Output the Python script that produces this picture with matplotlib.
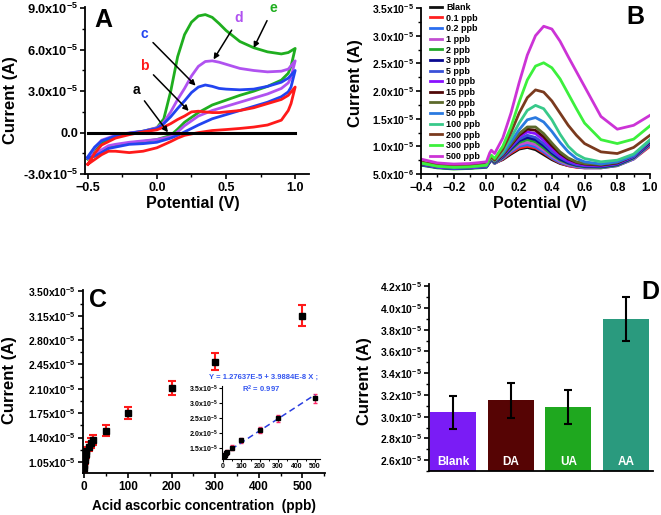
import numpy as np
import matplotlib
matplotlib.use('Agg')
import matplotlib.pyplot as plt
from matplotlib.ticker import MultipleLocator, AutoMinorLocator, FuncFormatter

plt.rcParams['font.family'] = ['Liberation Sans', 'DejaVu Sans']
plt.rcParams['font.weight'] = 'bold'
plt.rcParams['axes.labelweight'] = 'bold'
plt.rcParams['mathtext.fontset'] = 'custom'
plt.rcParams['mathtext.rm'] = 'Liberation Sans:bold'
plt.rcParams['mathtext.it'] = 'Liberation Sans:bold'
plt.rcParams['mathtext.bf'] = 'Liberation Sans:bold'
plt.rcParams['mathtext.default'] = 'rm'

# ---------------- data (currents in units of 1e-5 A) ----------------
# A: cyclic voltammograms
cv_fwd_x = [-0.5, -0.45, -0.4, -0.3, -0.2, -0.1, 0.0, 0.05, 0.1, 0.15, 0.2, 0.25,
            0.3, 0.35, 0.4, 0.45, 0.5, 0.6, 0.7, 0.8, 0.9, 0.95, 1.0]
cv_rev_x = [1.0, 0.97, 0.95, 0.9, 0.8, 0.7, 0.6, 0.5, 0.4, 0.3, 0.2, 0.15, 0.1,
            0.0, -0.1, -0.2, -0.3, -0.35, -0.4, -0.45, -0.5]
cv_b_fwd = [-2.3, -1.5, -0.9, -0.4, -0.15, 0.05, 0.2, 0.4, 0.65, 0.95, 1.2, 1.5,
            1.55, 1.5, 1.45, 1.45, 1.5, 1.6, 1.8, 2.1, 2.4, 2.7, 3.3]
cv_b_rev = [3.3, 2.1, 1.6, 0.9, 0.55, 0.4, 0.3, 0.22, 0.15, 0.0, -0.2, -0.4, -0.65,
            -1.1, -1.35, -1.45, -1.35, -1.35, -1.6, -1.95, -2.3]
cv_c_fwd = [-1.75, -1.05, -0.6, -0.25, -0.05, 0.1, 0.3, 0.65, 1.15, 1.75, 2.3, 2.9,
            3.3, 3.45, 3.35, 3.2, 3.15, 3.1, 3.15, 3.35, 3.65, 3.95, 4.5]
cv_c_rev = [4.5, 3.3, 2.95, 2.6, 2.2, 1.9, 1.6, 1.3, 1.0, 0.55, 0.05, -0.2, -0.4,
            -0.7, -0.8, -0.85, -1.05, -1.15, -1.45, -1.7, -1.85]
cv_d_fwd = [-1.85, -1.1, -0.55, -0.2, -0.02, 0.1, 0.35, 0.75, 1.5, 2.4, 3.2, 4.1,
            4.8, 5.15, 5.2, 5.1, 4.95, 4.65, 4.5, 4.4, 4.45, 4.6, 5.2]
cv_d_rev = [5.2, 4.0, 3.6, 3.2, 2.8, 2.5, 2.2, 1.9, 1.6, 1.2, 0.5, 0.05, -0.3,
            -0.5, -0.6, -0.7, -0.85, -0.95, -1.25, -1.55, -1.85]
cv_e_fwd = [-1.9, -1.2, -0.75, -0.3, -0.05, 0.1, 0.35, 1.0, 3.0, 5.5, 7.1, 8.0,
            8.45, 8.55, 8.35, 7.9, 7.4, 6.6, 6.15, 5.85, 5.7, 5.8, 6.1]
cv_e_rev = [6.1, 4.8, 4.3, 3.8, 3.35, 3.0, 2.7, 2.35, 2.0, 1.45, 0.75, 0.25, -0.2,
            -0.5, -0.65, -0.75, -0.95, -1.1, -1.4, -1.7, -1.9]
cv_a_x = [-0.5, 1.0]
cv_a_y = [0.0, 0.0]

# B: DPV curves
dpv_x = [-0.4, -0.3, -0.2, -0.1, 0.0, 0.02, 0.03, 0.05, 0.1, 0.15, 0.2, 0.25,
         0.3, 0.35, 0.4, 0.45, 0.5, 0.55, 0.6, 0.7, 0.8, 0.9, 1.0]
dpv_labels = ['Blank', '0.1 ppb', '0.2 ppb', '1 ppb', '2 ppb', '3 ppb', '5 ppb',
              '10 ppb', '15 ppb', '20 ppb', '50 ppb', '100 ppb', '200 ppb',
              '300 ppb', '500 ppb']
dpv_colors = ['#111111', '#ff2020', '#2a6ef0', '#c24fd0', '#22a82a', '#0a0a90',
              '#3a50d8', '#8a10ff', '#500808', '#5d6a2c', '#2a7ae0', '#38c98a',
              '#7a3a1e', '#3cf03c', '#cc33d6']
dpv_y = [
    [0.70, 0.67, 0.66, 0.67, 0.69, 0.74, 0.78, 0.70, 0.76, 0.86, 0.95, 0.98, 0.94, 0.85, 0.76, 0.69, 0.65, 0.63, 0.62, 0.62, 0.66, 0.78, 1.02],
    [0.68, 0.63, 0.61, 0.62, 0.64, 0.72, 0.76, 0.69, 0.77, 0.88, 0.97, 1.00, 0.97, 0.88, 0.78, 0.70, 0.65, 0.62, 0.61, 0.61, 0.65, 0.77, 1.00],
    [0.66, 0.62, 0.60, 0.61, 0.63, 0.71, 0.75, 0.69, 0.78, 0.90, 1.00, 1.03, 0.99, 0.90, 0.79, 0.71, 0.66, 0.63, 0.61, 0.61, 0.65, 0.77, 1.02],
    [0.67, 0.62, 0.60, 0.61, 0.63, 0.72, 0.76, 0.70, 0.79, 0.92, 1.03, 1.07, 1.03, 0.93, 0.82, 0.73, 0.67, 0.64, 0.62, 0.62, 0.66, 0.78, 1.03],
    [0.66, 0.61, 0.59, 0.60, 0.62, 0.72, 0.76, 0.70, 0.80, 0.94, 1.07, 1.12, 1.08, 0.97, 0.85, 0.75, 0.69, 0.65, 0.63, 0.62, 0.66, 0.79, 1.04],
    [0.67, 0.62, 0.60, 0.61, 0.63, 0.72, 0.77, 0.71, 0.81, 0.96, 1.10, 1.16, 1.12, 1.01, 0.88, 0.77, 0.70, 0.66, 0.64, 0.63, 0.67, 0.80, 1.05],
    [0.67, 0.62, 0.60, 0.61, 0.63, 0.73, 0.77, 0.71, 0.82, 0.98, 1.13, 1.20, 1.16, 1.05, 0.91, 0.80, 0.72, 0.67, 0.65, 0.64, 0.68, 0.81, 1.06],
    [0.68, 0.63, 0.61, 0.62, 0.64, 0.74, 0.78, 0.72, 0.83, 1.00, 1.17, 1.26, 1.23, 1.11, 0.96, 0.83, 0.74, 0.69, 0.66, 0.65, 0.69, 0.82, 1.07],
    [0.68, 0.64, 0.62, 0.63, 0.65, 0.74, 0.78, 0.72, 0.84, 1.02, 1.20, 1.31, 1.29, 1.17, 1.01, 0.87, 0.77, 0.71, 0.68, 0.66, 0.70, 0.83, 1.08],
    [0.69, 0.64, 0.62, 0.63, 0.65, 0.75, 0.79, 0.73, 0.85, 1.04, 1.23, 1.35, 1.35, 1.23, 1.06, 0.90, 0.79, 0.72, 0.69, 0.67, 0.71, 0.84, 1.10],
    [0.69, 0.64, 0.62, 0.63, 0.65, 0.75, 0.79, 0.73, 0.87, 1.08, 1.30, 1.48, 1.52, 1.44, 1.27, 1.07, 0.90, 0.78, 0.72, 0.68, 0.72, 0.83, 1.10],
    [0.70, 0.65, 0.63, 0.64, 0.66, 0.76, 0.80, 0.74, 0.90, 1.15, 1.42, 1.65, 1.74, 1.68, 1.48, 1.22, 1.00, 0.86, 0.78, 0.72, 0.75, 0.86, 1.12],
    [0.72, 0.66, 0.64, 0.65, 0.67, 0.77, 0.81, 0.75, 0.95, 1.25, 1.60, 1.88, 2.02, 1.98, 1.82, 1.60, 1.38, 1.20, 1.05, 0.90, 0.87, 0.98, 1.20],
    [0.70, 0.64, 0.62, 0.63, 0.66, 0.80, 0.84, 0.78, 1.00, 1.35, 1.80, 2.20, 2.45, 2.51, 2.42, 2.22, 1.95, 1.68, 1.42, 1.12, 1.05, 1.13, 1.37],
    [0.77, 0.70, 0.68, 0.69, 0.72, 0.88, 0.93, 0.87, 1.15, 1.60, 2.15, 2.65, 3.00, 3.17, 3.12, 2.90, 2.62, 2.35, 2.08, 1.54, 1.31, 1.38, 1.56],
]

# C: calibration
conc = [0.1, 0.2, 1, 2, 3, 5, 10, 15, 20, 50, 100, 200, 300, 500]
peak = [0.96, 1.00, 1.07, 1.12, 1.17, 1.20, 1.27, 1.32, 1.36, 1.50, 1.75, 2.11, 2.49, 3.15]
peak_err = [0.05, 0.05, 0.05, 0.06, 0.06, 0.06, 0.07, 0.07, 0.07, 0.08, 0.09, 0.10, 0.12, 0.15]
fit_x = [0, 500]
fit_y = [1.276, 3.270]

# D: selectivity
species = ['Blank', 'DA', 'UA', 'AA']
sel_cur = [3.04, 3.15, 3.09, 3.90]
sel_err = [0.15, 0.16, 0.155, 0.20]
sel_colors = ['#7a1cf5', '#560404', '#1fa81f', '#2a9a7e']

E5 = 1e-5


def sci_fmt(nd):
    def f(v, pos):
        if abs(v) < 1e-12:
            return '0.0'
        e = int(np.floor(np.log10(abs(v)) + 1e-6))
        return '%.*fx10$^{%d}$' % (nd, v / 10.0 ** e, e)
    return FuncFormatter(f)


def style(ax, xs=8.5, ys=7.5):
    for s in ['top', 'right']:
        ax.spines[s].set_visible(False)
    for s in ['left', 'bottom']:
        ax.spines[s].set_linewidth(1.3)
    ax.tick_params(which='major', direction='out', length=3.5, width=1.2)
    ax.tick_params(which='minor', direction='out', length=2, width=1.0)
    ax.tick_params(axis='x', labelsize=xs, pad=2)
    ax.tick_params(axis='y', labelsize=ys, pad=1.5)


W, H = 661.0, 515.0


def pos(l, t, r, b):
    return [l / W, 1 - b / H, (r - l) / W, (b - t) / H]


fig = plt.figure(figsize=(6.61, 5.15), dpi=100)

# ---------------- A ----------------
ax = fig.add_axes(pos(85, 7, 309, 174))
ax.plot(cv_fwd_x + cv_rev_x, [v * E5 for v in cv_e_fwd + cv_e_rev], color='#1fae1f', lw=2)
ax.plot(cv_fwd_x + cv_rev_x, [v * E5 for v in cv_d_fwd + cv_d_rev], color='#b052f0', lw=2)
ax.plot(cv_fwd_x + cv_rev_x, [v * E5 for v in cv_c_fwd + cv_c_rev], color='#2244f0', lw=2)
ax.plot(cv_fwd_x + cv_rev_x, [v * E5 for v in cv_b_fwd + cv_b_rev], color='#ff1a1a', lw=2)
ax.plot(cv_a_x, cv_a_y, color='black', lw=2.2)
ax.set_xlim(-0.52, 1.10)
ax.set_ylim(-3e-5, 9.1e-5)
ax.xaxis.set_major_locator(MultipleLocator(0.5))
ax.xaxis.set_minor_locator(AutoMinorLocator(2))
ax.yaxis.set_major_locator(MultipleLocator(3e-5))
ax.yaxis.set_minor_locator(AutoMinorLocator(2))
ax.yaxis.set_major_formatter(sci_fmt(1))
style(ax, xs=9, ys=9.2)
ax.set_xlabel('Potential (V)', fontsize=11.5)
ax.set_ylabel('Current (A)', fontsize=12)
ax.xaxis.set_label_coords(0.48, -0.13)
ax.yaxis.set_label_coords(-0.30, 0.44)
ax.text(0.08, 0.925, 'A', transform=ax.transAxes, fontsize=18, ha='center', va='center')
arr = dict(arrowstyle='-|>', color='black', lw=1.1, mutation_scale=8, shrinkA=2, shrinkB=0)
ax.annotate('a', xy=(0.08, 0.02e-5), xytext=(-0.15, 3.1e-5), color='black', fontsize=10,
            ha='center', va='center', arrowprops=arr)
ax.annotate('b', xy=(0.23, 1.57e-5), xytext=(-0.09, 4.85e-5), color='#ff1a1a', fontsize=10,
            ha='center', va='center', arrowprops=arr)
ax.annotate('c', xy=(0.28, 3.4e-5), xytext=(-0.09, 7.15e-5), color='#2244f0', fontsize=10,
            ha='center', va='center', arrowprops=arr)
ax.annotate('d', xy=(0.41, 5.3e-5), xytext=(0.595, 8.3e-5), color='#b052f0', fontsize=10,
            ha='center', va='center', arrowprops=arr)
ax.annotate('e', xy=(0.70, 6.14e-5), xytext=(0.84, 9.0e-5), color='#1fae1f', fontsize=10,
            ha='center', va='center', arrowprops=arr)

# ---------------- B ----------------
ax = fig.add_axes(pos(421, 8, 650, 174))
for lab, col, ys in zip(dpv_labels, dpv_colors, dpv_y):
    ax.plot(dpv_x, [v * E5 for v in ys], color=col, lw=2, label=lab)
ax.set_xlim(-0.4, 1.0)
ax.set_ylim(5e-6, 3.5e-5)
ax.xaxis.set_major_locator(MultipleLocator(0.2))
ax.xaxis.set_minor_locator(AutoMinorLocator(2))
ax.yaxis.set_major_locator(MultipleLocator(5e-6))
ax.yaxis.set_minor_locator(AutoMinorLocator(2))
ax.yaxis.set_major_formatter(sci_fmt(1))
style(ax)
ax.set_xlabel('Potential (V)', fontsize=11.5)
ax.set_ylabel('Current (A)', fontsize=12)
ax.xaxis.set_label_coords(0.52, -0.13)
ax.yaxis.set_label_coords(-0.253, 0.55)
ax.legend(loc='upper left', bbox_to_anchor=(0.04, 1.03), frameon=False, fontsize=6.5,
          handlelength=1.3, handletextpad=0.5, labelspacing=0.18, borderpad=0,
          borderaxespad=0)
ax.text(0.935, 0.945, 'B', transform=ax.transAxes, fontsize=18, ha='center', va='center')

# ---------------- C ----------------
ax = fig.add_axes(pos(83, 290, 325, 473))
ax.errorbar(conc, [v * E5 for v in peak], yerr=[v * E5 for v in peak_err], fmt='s',
            color='black', ms=5, ecolor='#ff1a1a', elinewidth=1.5, capsize=3, capthick=1.5)
ax.set_xlim(-3, 552)
ax.set_ylim(0.89e-5, 3.52e-5)
ax.xaxis.set_major_locator(MultipleLocator(100))
ax.xaxis.set_minor_locator(AutoMinorLocator(2))
ax.yaxis.set_major_locator(MultipleLocator(0.35e-5))
ax.yaxis.set_minor_locator(AutoMinorLocator(2))
ax.yaxis.set_major_formatter(sci_fmt(2))
style(ax)
ax.set_xlabel('Acid ascorbic concentration  (ppb)', fontsize=9.8)
ax.set_ylabel('Current (A)', fontsize=12)
ax.xaxis.set_label_coords(0.5, -0.14)
ax.yaxis.set_label_coords(-0.273, 0.51)
ax.text(0.06, 0.945, 'C', transform=ax.transAxes, fontsize=18, ha='center', va='center')

# inset
ins = fig.add_axes(pos(222, 386, 320, 459))
ins.errorbar(conc, [v * E5 for v in peak], yerr=[v * E5 for v in peak_err], fmt='s',
             color='black', ms=2.5, ecolor='#ff2a6a', elinewidth=1.0, capsize=1.5, capthick=1.0)
ins.plot(fit_x, [v * E5 for v in fit_y], color='#2a3ee0', lw=1.1, ls=(0, (4, 2.5)))
ins.set_xlim(-5, 527)
ins.set_ylim(1.13e-5, 3.56e-5)
ins.xaxis.set_major_locator(MultipleLocator(100))
ins.xaxis.set_minor_locator(AutoMinorLocator(2))
ins.yaxis.set_major_locator(MultipleLocator(0.5e-5))
ins.yaxis.set_major_formatter(sci_fmt(1))
for s in ['top', 'right']:
    ins.spines[s].set_visible(False)
ins.tick_params(which='major', direction='out', length=2, width=0.8, labelsize=5, pad=1)
ins.tick_params(which='minor', direction='out', length=1.2, width=0.7)
fig.text(264 / W, 1 - 377 / H, 'Y = 1.27637E-5 + 3.9884E-8 X ;', color='#3355f0',
         fontsize=5.5, ha='center', va='center')
fig.text(261 / W, 1 - 389 / H, 'R$^{2}$ = 0.997', color='#3355f0',
         fontsize=5.5, ha='center', va='center')

# ---------------- D ----------------
ax = fig.add_axes(pos(429, 284, 653, 471))
xs = np.arange(len(species))
ax.bar(xs, [v * E5 for v in sel_cur], width=0.8, color=sel_colors, yerr=[v * E5 for v in sel_err],
       error_kw=dict(ecolor='black', elinewidth=1.5, capsize=3, capthick=1.5))
for x, lab in zip(xs, species):
    ax.text(x, 2.585e-5, lab, color='white', fontsize=8.5, ha='center', va='center')
ax.set_xlim(-0.42, 3.47)
ax.set_ylim(2.5e-5, 4.22e-5)
ax.set_xticks([])
ax.yaxis.set_major_locator(MultipleLocator(0.2e-5))
ax.yaxis.set_minor_locator(AutoMinorLocator(2))
ax.yaxis.set_major_formatter(sci_fmt(1))
style(ax)
ax.set_ylabel('Current (A)', fontsize=12)
ax.yaxis.set_label_coords(-0.254, 0.48)
ax.text(0.99, 0.955, 'D', transform=ax.transAxes, fontsize=18, ha='center', va='center')

plt.savefig('out.png', dpi=100)
